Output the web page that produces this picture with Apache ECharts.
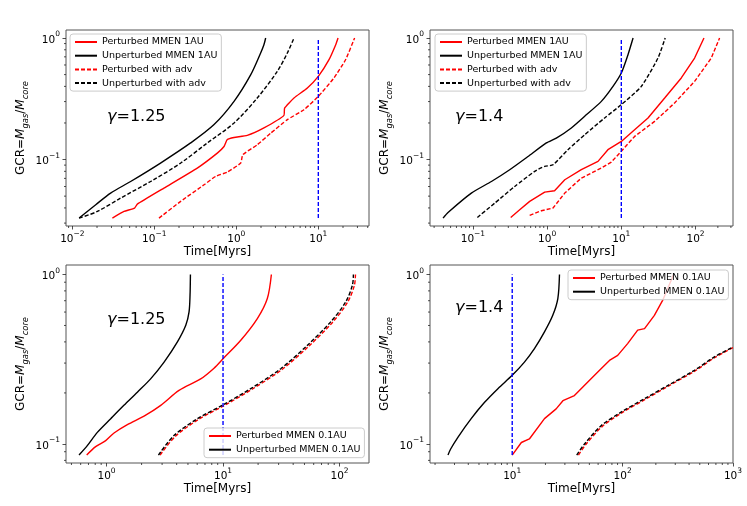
<!DOCTYPE html>
<html>
<head>
<meta charset="utf-8">
<script src="https://cdn.jsdelivr.net/npm/echarts/dist/echarts.min.js"></script>
<style>
html, body { margin: 0; padding: 0; background: #fff; }
#chart { width: 747px; height: 506px; }
</style>
</head>
<body>
<div id="chart"></div>
<script>
// panel 1 : gamma=1.25, MMEN 1AU  [time(Myr), GCR]
var p1PertMMEN = [[0.0308,0.033],[0.0427,0.0374],[0.0575,0.0399],[0.062,0.043],[0.131,0.0583],[0.334,0.0851],[0.586,0.113],[0.708,0.128],[0.776,0.146],[0.938,0.152],[1.36,0.158],[2.17,0.182],[3.81,0.231],[3.88,0.265],[5.05,0.321],[7.35,0.388],[10,0.483],[13.5,0.663],[16.3,0.88],[17.4,1.0]];
var p1UnpertMMEN = [[0.0121,0.033],[0.0193,0.0425],[0.0293,0.053],[0.0514,0.066],[0.119,0.0936],[0.277,0.137],[0.535,0.194],[0.938,0.301],[1.50,0.499],[1.98,0.753],[2.17,0.88],[2.28,1.0]];
var p1PertAdv = [[0.114,0.033],[0.2095,0.0453],[0.404,0.062],[0.560,0.0727],[0.776,0.0789],[1.13,0.0936],[1.20,0.1096],[1.80,0.1324],[2.63,0.165],[4.19,0.213],[6.68,0.257],[10,0.331],[15.5,0.469],[21.5,0.663],[27.7,1.0]];
var p1UnpertAdv = [[0.0121,0.033],[0.0202,0.0374],[0.0388,0.0482],[0.0901,0.066],[0.2095,0.0936],[0.443,0.137],[0.938,0.2],[1.80,0.321],[3.16,0.532],[4.19,0.753],[5.05,1.0]];
var blue1 = [[10,0.033],[10,1.0]];

// panel 2 : gamma=1.4, MMEN 1AU
var p2PertMMEN = [[0.323,0.0334],[0.427,0.0386],[0.582,0.0453],[0.927,0.054],[1.26,0.0554],[1.73,0.0682],[2.89,0.0825],[4.85,0.0966],[6.6,0.1205],[10,0.141],[15.1,0.176],[22.9,0.22],[38.4,0.321],[64.3,0.469],[97.2,0.684],[130,1.0]];
var p2UnpertMMEN = [[0.0396,0.033],[0.0462,0.0367],[0.0953,0.053],[0.1775,0.066],[0.313,0.0825],[0.553,0.106],[0.977,0.137],[1.33,0.150],[2.12,0.182],[3.21,0.227],[5.38,0.301],[7.72,0.400],[10,0.515],[12.3,0.729],[14.4,1.0]];
var p2PertAdv = [[0.582,0.0347],[0.836,0.0379],[1.20,0.0399],[1.73,0.053],[2.89,0.0704],[5.38,0.0851],[7.33,0.0953],[10,0.117],[15.1,0.155],[28.1,0.206],[52.2,0.292],[97.2,0.44],[163,0.684],[211,1.0]];
var p2UnpertAdv = [[0.1148,0.0334],[0.197,0.0438],[0.366,0.0601],[0.681,0.080],[0.927,0.0879],[1.20,0.0906],[1.91,0.1205],[3.21,0.160],[5.96,0.22],[10,0.283],[18.6,0.400],[31.2,0.684],[39.0,1.0]];
var blue2 = [[10,0.033],[10,1.0]];

// panel 3 : gamma=1.25, MMEN 0.1AU
var p3PertMMEN = [[0.676,0.086],[0.807,0.0964],[0.984,0.1047],[1.16,0.116],[1.51,0.13],[2.10,0.146],[2.92,0.169],[4.19,0.207],[6.43,0.242],[8.37,0.280],[10,0.318],[14.2,0.409],[19.7,0.549],[24.0,0.721],[26.0,1.0]];
var p3UnpertMMEN = [[0.581,0.086],[0.684,0.0977],[0.834,0.117],[1.087,0.141],[1.41,0.169],[1.84,0.202],[2.39,0.242],[3.12,0.304],[4.06,0.400],[4.79,0.501],[5.11,0.601],[5.21,0.755],[5.25,1.0]];
var p3PertAdv = [[2.88,0.086],[3.90,0.111],[6.2,0.140],[10.3,0.169],[17.9,0.211],[32.3,0.276],[54.8,0.379],[86.9,0.521],[117,0.684],[134,0.86],[137,1.0]];
var p3UnpertAdv = [[2.79,0.086],[3.79,0.112],[6.03,0.141],[10,0.170],[17.3,0.212],[31.3,0.278],[53.0,0.382],[84.0,0.525],[113,0.689],[129,0.865],[131.5,1.0]];
var blue3 = [[10,0.086],[10,1.0]];

// panel 4 : gamma=1.4, MMEN 0.1AU
var p4PertMMEN = [[10,0.086],[12.1,0.102],[14.3,0.107],[19.6,0.141],[25.0,0.161],[28.8,0.180],[36.6,0.193],[48.4,0.232],[63.8,0.278],[76.0,0.311],[90.3,0.333],[111,0.391],[137,0.469],[158,0.479],[194,0.574],[231,0.705],[284,0.97],[290,1.0]];
var p4UnpertMMEN = [[2.62,0.086],[2.77,0.0934],[3.22,0.1095],[4.25,0.141],[5.62,0.176],[7.42,0.212],[10,0.254],[12.9,0.304],[15.9,0.365],[19.6,0.458],[23.3,0.574],[25.9,0.721],[26.8,1.0]];
var p4PertAdv = [[39.8,0.086],[46.8,0.1],[65.5,0.127],[99,0.153],[162,0.184],[262,0.22],[457,0.271],[693,0.325],[1000,0.37]];
var p4UnpertAdv = [[38.4,0.086],[45.2,0.1],[63.8,0.128],[96.8,0.154],[158,0.185],[256,0.221],[447,0.272],[678,0.326],[1000,0.373]];
var blue4 = [[10,0.086],[10,1.0]];

// axes
var xMin = [0.00837, 0.0264, 0.449, 1.80];
var xMax = [41.5, 320, 179, 1000];
var yMin = [0.0284, 0.0284, 0.0772, 0.0772];
var yMax = [1.164, 1.164, 1.137, 1.137];
var xMajor = [[0.01, 0.1, 1, 10], [0.1, 1, 10, 100], [1, 10, 100], [10, 100, 1000]];
var yMajor = [0.1, 1];
var gammaText = ['1.25', '1.4', '1.25', '1.4'];
var legendNames1AU = ['Perturbed MMEN 1AU', 'Unperturbed MMEN 1AU', 'Perturbed with adv', 'Unperturbed with adv'];
var legendNames01AU = ['Perturbed MMEN 0.1AU', 'Unperturbed MMEN 0.1AU'];

var FONT = 'DejaVu Sans';
var grids = [
    {left: 66, top: 30, width: 303, height: 196},
    {left: 430, top: 30, width: 303, height: 196},
    {left: 66, top: 265, width: 303, height: 198},
    {left: 430, top: 265, width: 303, height: 198}
];

function minorTicks(lo, hi) {
    var out = [];
    for (var e = Math.floor(Math.log10(lo)); e <= Math.ceil(Math.log10(hi)); e++) {
        for (var k = 2; k <= 9; k++) {
            var v = k * Math.pow(10, e);
            if (v > lo && v < hi) out.push(v);
        }
    }
    return out;
}

function pow10(v) {
    var e = Math.round(Math.log10(v));
    return '{b|10}{s|' + (e < 0 ? '\u2212' + (-e) : e) + '}';
}
var tickRich = {
    b: {fontSize: 10.5, fontFamily: FONT, color: '#000', lineHeight: 15, verticalAlign: 'bottom'},
    s: {fontSize: 7.5, fontFamily: FONT, color: '#000', lineHeight: 9, verticalAlign: 'top'}
};
var tickLine = {color: '#222', width: 0.8};

var xAxis = [], yAxis = [];
for (var i = 0; i < 4; i++) {
    xAxis.push({
        type: 'log', gridIndex: i, min: xMin[i], max: xMax[i],
        name: 'Time[Myrs]', nameLocation: 'middle', nameGap: 20,
        nameTextStyle: {fontSize: 12, color: '#000', fontFamily: FONT},
        axisLine: {show: false}, splitLine: {show: false},
        axisTick: {customValues: xMajor[i], length: 3.5, lineStyle: tickLine},
        axisLabel: {customValues: xMajor[i], formatter: pow10, rich: tickRich, margin: 4}
    });
    yAxis.push({
        type: 'log', gridIndex: i, min: yMin[i], max: yMax[i],
        name: '{n|GCR=}{i|M}{sub|gas}{n|/}{i|M}{sub|core}', nameLocation: 'middle', nameGap: 36,
        nameTextStyle: {rich: {
            n: {fontSize: 12, fontFamily: FONT, color: '#000', lineHeight: 15, verticalAlign: 'top'},
            i: {fontSize: 12, fontFamily: FONT, fontStyle: 'italic', color: '#000', lineHeight: 15, verticalAlign: 'top'},
            sub: {fontSize: 8.4, fontFamily: FONT, fontStyle: 'italic', color: '#000', lineHeight: 9, verticalAlign: 'bottom'}
        }},
        axisLine: {show: false}, splitLine: {show: false},
        axisTick: {customValues: yMajor, length: 3.5, lineStyle: tickLine},
        axisLabel: {customValues: yMajor, formatter: pow10, rich: tickRich, margin: 6}
    });
}

// smooth curves get a light spline, the jagged ones stay as read
function curve(name, data, gi, color, dashed, smooth) {
    return {
        name: name, type: 'line', data: data,
        xAxisIndex: gi, yAxisIndex: gi,
        symbol: 'none', smooth: smooth || false, animation: false,
        lineStyle: {color: color, width: 1.4, type: dashed ? [4, 2] : 'solid'},
        itemStyle: {color: color}
    };
}

// log minor ticks (2..9 x 10^n), placed through the axes with api.coord
function minorX(gi) {
    return {
        type: 'custom', xAxisIndex: gi, yAxisIndex: gi, silent: true, clip: false, animation: false,
        data: minorTicks(xMin[gi], xMax[gi]).map(function (v) { return [v, yMin[gi]]; }),
        renderItem: function (params, api) {
            var p = api.coord([api.value(0), api.value(1)]);
            return {type: 'line', shape: {x1: p[0], y1: p[1], x2: p[0], y2: p[1] + 2},
                    style: {stroke: '#222', lineWidth: 0.8}};
        }
    };
}
function minorY(gi) {
    return {
        type: 'custom', xAxisIndex: gi, yAxisIndex: gi, silent: true, clip: false, animation: false,
        data: minorTicks(yMin[gi], yMax[gi]).map(function (v) { return [xMin[gi], v]; }),
        renderItem: function (params, api) {
            var p = api.coord([api.value(0), api.value(1)]);
            return {type: 'line', shape: {x1: p[0], y1: p[1], x2: p[0] - 2, y2: p[1]},
                    style: {stroke: '#222', lineWidth: 0.8}};
        }
    };
}

var series = [
    curve('Perturbed MMEN 1AU', p1PertMMEN, 0, '#ff0000', false, 0.15),
    curve('Unperturbed MMEN 1AU', p1UnpertMMEN, 0, '#000000', false, 0.3),
    curve('Perturbed with adv', p1PertAdv, 0, '#ff0000', true, 0.15),
    curve('Unperturbed with adv', p1UnpertAdv, 0, '#000000', true, 0.3),
    curve('10 Myr', blue1, 0, '#0000ff', true),

    curve('Perturbed MMEN 1AU', p2PertMMEN, 1, '#ff0000', false),
    curve('Unperturbed MMEN 1AU', p2UnpertMMEN, 1, '#000000', false, 0.2),
    curve('Perturbed with adv', p2PertAdv, 1, '#ff0000', true),
    curve('Unperturbed with adv', p2UnpertAdv, 1, '#000000', true, 0.2),
    curve('10 Myr', blue2, 1, '#0000ff', true),

    curve('Perturbed MMEN 0.1AU', p3PertMMEN, 2, '#ff0000', false, 0.3),
    curve('Unperturbed MMEN 0.1AU', p3UnpertMMEN, 2, '#000000', false, 0.3),
    curve('Perturbed adv 0.1AU', p3PertAdv, 2, '#ff0000', true, 0.3),
    curve('Unperturbed adv 0.1AU', p3UnpertAdv, 2, '#000000', true, 0.3),
    curve('10 Myr', blue3, 2, '#0000ff', true),

    curve('Perturbed MMEN 0.1AU', p4PertMMEN, 3, '#ff0000', false),
    curve('Unperturbed MMEN 0.1AU', p4UnpertMMEN, 3, '#000000', false, 0.3),
    curve('Perturbed adv 0.1AU', p4PertAdv, 3, '#ff0000', true, 0.3),
    curve('Unperturbed adv 0.1AU', p4UnpertAdv, 3, '#000000', true, 0.3),
    curve('10 Myr', blue4, 3, '#0000ff', true)
];
for (var g = 0; g < 4; g++) {
    series.push(minorX(g));
    series.push(minorY(g));
}

function legendBox(names, left, top) {
    return {
        data: names, orient: 'vertical', left: left, top: top,
        padding: [3, 4, 3, 4], itemGap: 3.7, itemWidth: 22, itemHeight: 10,
        backgroundColor: 'rgba(255,255,255,0.8)', borderColor: '#cccccc', borderWidth: 1, borderRadius: 3,
        selectedMode: false,
        itemStyle: {opacity: 0, borderWidth: 0},
        textStyle: {fontSize: 9.5, fontFamily: FONT, color: '#000'}
    };
}

var gammaPos = [[107, 109], [455, 109], [107, 312], [455, 300]];
var titles = gammaPos.map(function (p, k) {
    return {
        text: '{g|\u03b3}{n|=' + gammaText[k] + '}', left: p[0], top: p[1], padding: 0,
        textStyle: {fontWeight: 'normal', rich: {
            g: {fontSize: 16, fontFamily: FONT, fontStyle: 'italic', fontWeight: 'normal', color: '#000'},
            n: {fontSize: 16, fontFamily: FONT, fontWeight: 'normal', color: '#000'}
        }}
    };
});

var myChart = echarts.init(document.getElementById('chart'));
myChart.setOption({
    backgroundColor: '#ffffff',
    animation: false,
    title: titles,
    grid: grids.map(function (g) {
        return {left: g.left, top: g.top, width: g.width, height: g.height, show: true,
                borderColor: '#555', borderWidth: 1, backgroundColor: 'transparent'};
    }),
    legend: [
        legendBox(legendNames1AU, 70, 34),
        legendBox(legendNames1AU, 435, 34),
        legendBox(legendNames01AU, 204, 428),
        legendBox(legendNames01AU, 568, 270)
    ],
    xAxis: xAxis,
    yAxis: yAxis,
    series: series
});
</script>
</body>
</html>
